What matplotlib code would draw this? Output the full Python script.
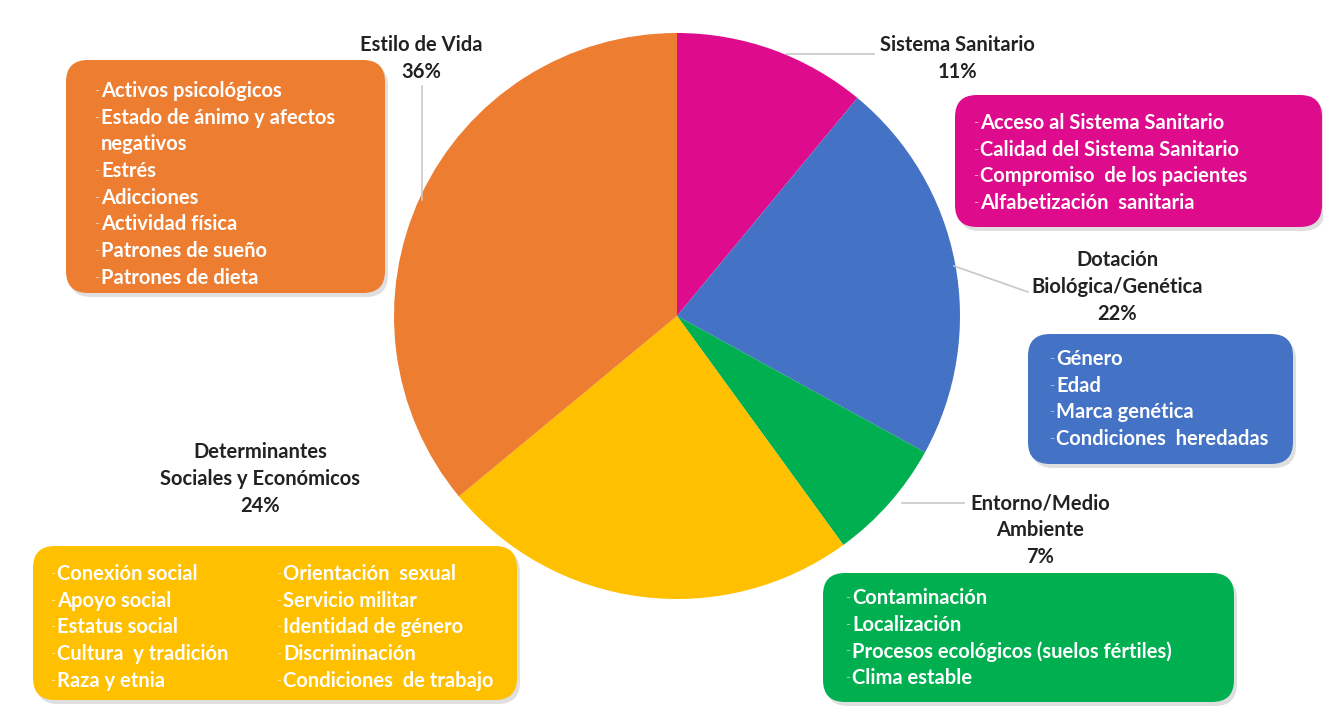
import matplotlib
matplotlib.use("Agg")
import matplotlib.pyplot as plt
from matplotlib.patches import FancyBboxPatch

W, H = 1323, 709
FONT = ["Lato", "DejaVu Sans"]
TEXT_SIZE = 14.5

# --- data -------------------------------------------------------------
categories = ["Sistema Sanitario",
              "Dotación\nBiológica/Genética",
              "Entorno/Medio\nAmbiente",
              "Determinantes\nSociales y Económicos",
              "Estilo de Vida"]
shares = [11, 22, 7, 24, 36]
colors = ["#DE0B8D", "#4472C4", "#00B050", "#FFC000", "#ED7D31"]

items_sanitario = ["Acceso al Sistema Sanitario",
                   "Calidad del Sistema Sanitario",
                   "Compromiso  de los pacientes",
                   "Alfabetización  sanitaria"]
items_biologia = ["Género", "Edad", "Marca genética", "Condiciones  heredadas"]
items_entorno = ["Contaminación", "Localización",
                 "Procesos ecológicos (suelos fértiles)", "Clima estable"]
items_social_a = ["Conexión social", "Apoyo social", "Estatus social",
                  "Cultura  y tradición", "Raza y etnia"]
items_social_b = ["Orientación  sexual", "Servicio militar",
                  "Identidad de género", "Discriminación",
                  "Condiciones  de trabajo"]
items_estilo = ["Activos psicológicos",
                "Estado de ánimo y afectos\nnegativos",
                "Estrés", "Adicciones", "Actividad física",
                "Patrones de sueño", "Patrones de dieta"]

# --- layout (pixel coordinates, origin top-left) ------------------------
PIE_CENTER = (677, 316)
PIE_RADIUS = 283
LINE_STEP = 26.7

# label: centre x, first line y
label_pos = [(957, 45), (1117, 260), (1040, 503), (260, 452), (421, 45)]
# leader lines
leaders = [((786, 54), (874, 54)),
           ((954, 266), (1028, 292)),
           ((902, 503), (964, 503)),
           None,
           ((422, 86), (422, 200))]
# boxes: x0, y0, x1, y1
boxes = [(955, 95, 1322, 227), (1028, 334, 1293, 464),
         (823, 573, 1234, 702), (33, 546, 517, 700), (66, 60, 385, 293)]
# text columns: (items, x start, first row y)
columns = [[(items_sanitario, 980, 123)],
           [(items_biologia, 1056, 359)],
           [(items_entorno, 852, 598)],
           [(items_social_a, 57, 574), (items_social_b, 283, 574)],
           [(items_estilo, 101, 91)]]

fig = plt.figure(figsize=(W / 100, H / 100), dpi=100)
ax = fig.add_axes([0, 0, 1, 1])

# y axis is flipped, so counterclock in data space runs clockwise on screen
ax.pie(shares, colors=colors, center=PIE_CENTER, radius=PIE_RADIUS,
       startangle=-90, counterclock=True, frame=True,
       wedgeprops=dict(linewidth=0))
ax.set_xlim(0, W)
ax.set_ylim(H, 0)
ax.set_aspect("equal")
ax.axis("off")

for seg in leaders:
    if seg is None:
        continue
    (x0, y0), (x1, y1) = seg
    ax.plot([x0, x1], [y0, y1], color="#C8C8C8", lw=1.2, zorder=1)

for name, share, (lx, ly) in zip(categories, shares, label_pos):
    lines = name.split("\n") + [f"{share}%"]
    for i, line in enumerate(lines):
        ax.text(lx, ly + i * 27, line, ha="center", va="center",
                fontsize=TEXT_SIZE, fontweight="bold", color="#222222",
                family=FONT)

for color, (x0, y0, x1, y1), cols in zip(colors, boxes, columns):
    shadow = FancyBboxPatch((x0 + 3, y0 + 4), x1 - x0, y1 - y0,
                            boxstyle="round,pad=0,rounding_size=22",
                            facecolor="#808080", edgecolor="none",
                            alpha=0.25, zorder=2)
    ax.add_patch(shadow)
    box = FancyBboxPatch((x0, y0), x1 - x0, y1 - y0,
                         boxstyle="round,pad=0,rounding_size=22",
                         facecolor=color, edgecolor="none", zorder=3)
    ax.add_patch(box)
    for items, tx, ty in cols:
        row = 0
        for item in items:
            for j, part in enumerate(item.split("\n")):
                y = ty + row * LINE_STEP
                if j == 0:
                    ax.text(tx - 2, y, "-", ha="right", va="center",
                            fontsize=10, color="white", alpha=0.55,
                            family=FONT, zorder=4)
                ax.text(tx, y, part, ha="left", va="center",
                        fontsize=TEXT_SIZE, fontweight="bold", color="white",
                        family=FONT, zorder=4)
                row += 1

fig.savefig("out.png", dpi=100, facecolor="white")
